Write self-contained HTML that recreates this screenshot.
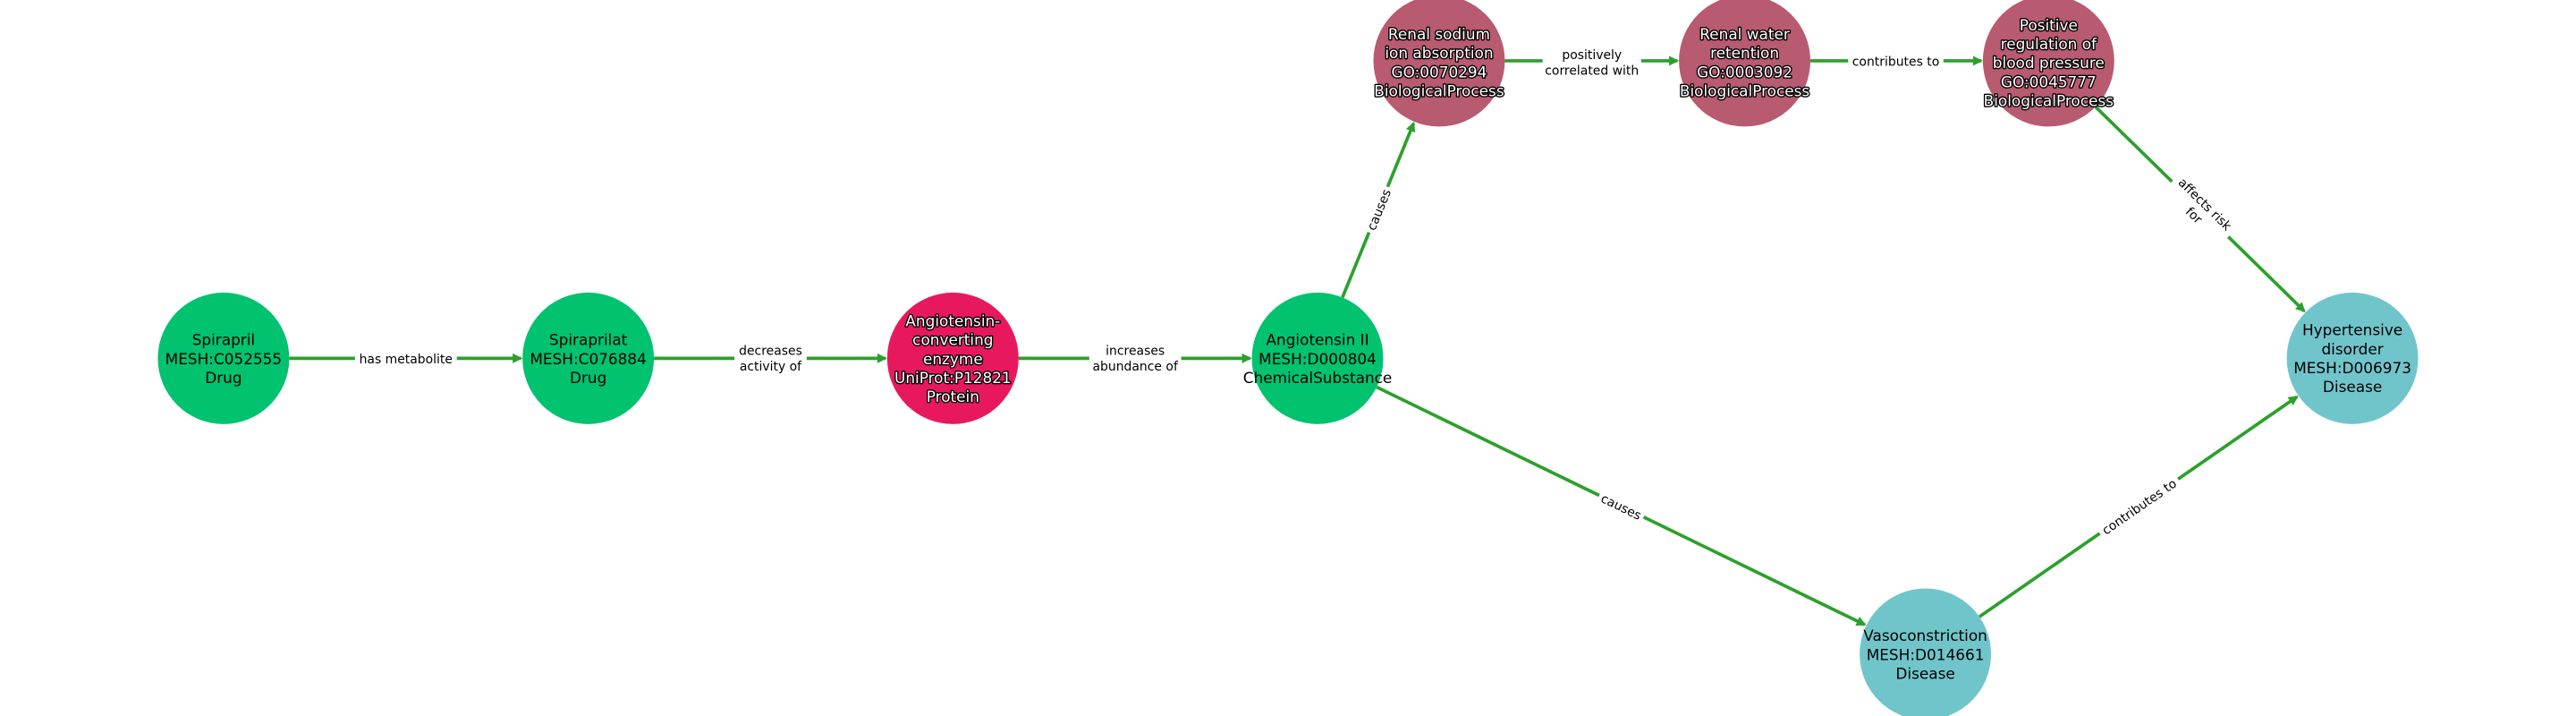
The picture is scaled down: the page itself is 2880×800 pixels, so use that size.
<!DOCTYPE html>
<html><head><meta charset="utf-8"><style>
html,body{margin:0;padding:0;background:#fff;}
svg{display:block;}
text{font-family:"DejaVu Sans","Liberation Sans",sans-serif;}
.n{font-size:9.2px;fill:#000;text-anchor:middle;}
.w{font-size:9.2px;fill:#fff;stroke:#000;stroke-width:1.5px;paint-order:stroke;stroke-linejoin:round;text-anchor:middle;}
.e{font-size:7.6px;fill:#000;text-anchor:middle;}
</style></head><body>
<svg id="s" width="2880" height="800" viewBox="0 0 1568 435.6" xmlns="http://www.w3.org/2000/svg">
<defs><marker id="a" markerWidth="6" markerHeight="6" refX="5" refY="3" orient="auto" markerUnits="userSpaceOnUse"><path d="M0,0 L6,3 L0,6 z" fill="#2ca02c"/></marker></defs>
<g id="edges"></g>
<g>
<circle cx="136" cy="218" r="40" fill="#00c26f"/>
<circle cx="358" cy="218" r="40" fill="#00c26f"/>
<circle cx="580" cy="218" r="40" fill="#e8185f"/>
<circle cx="802" cy="218" r="40" fill="#00c26f"/>
<circle cx="876" cy="37" r="40" fill="#b85a70"/>
<circle cx="1062" cy="37" r="40" fill="#b85a70"/>
<circle cx="1247" cy="37" r="40" fill="#b85a70"/>
<circle cx="1432" cy="218" r="40" fill="#70c5cb"/>
<circle cx="1172" cy="398" r="40" fill="#70c5cb"/>
</g>
<g id="labels">
<g><rect x="216" y="211" width="62" height="13" fill="#fff"/><text class="e" x="247" y="221">has metabolite</text></g>
<g><rect x="447" y="205" width="44" height="25" fill="#fff"/><text class="e" x="469" y="216">decreases</text><text class="e" x="469" y="225.5">activity of</text></g>
<g><rect x="663" y="205" width="56" height="25" fill="#fff"/><text class="e" x="691" y="216">increases</text><text class="e" x="691" y="225.5">abundance of</text></g>
<g><rect x="939" y="25" width="60" height="25" fill="#fff"/><text class="e" x="969" y="36">positively</text><text class="e" x="969" y="45.5">correlated with</text></g>
<g><rect x="1125" y="30" width="58" height="13" fill="#fff"/><text class="e" x="1154" y="40">contributes to</text></g>
<g transform="translate(839,127.5) rotate(-67.8)"><rect x="-15" y="-7" width="30" height="13" fill="#fff"/><text class="e" x="0" y="3">causes</text></g>
<g transform="translate(1339,127.5) rotate(44.4)"><rect x="-24" y="-12" width="48" height="25" fill="#fff"/><text class="e" x="0" y="-2">affects risk</text><text class="e" x="0" y="7.5">for</text></g>
<g transform="translate(987,308) rotate(25.9)"><rect x="-15" y="-7" width="30" height="13" fill="#fff"/><text class="e" x="0" y="3">causes</text></g>
<g transform="translate(1302,308) rotate(-34.7)"><rect x="-29" y="-7" width="58" height="13" fill="#fff"/><text class="e" x="0" y="3">contributes to</text></g>
</g>
<g>
<text class="n" x="136" y="210">Spirapril</text><text class="n" x="136" y="221.5">MESH:C052555</text><text class="n" x="136" y="233">Drug</text>
<text class="n" x="358" y="210">Spiraprilat</text><text class="n" x="358" y="221.5">MESH:C076884</text><text class="n" x="358" y="233">Drug</text>
<text class="w" x="580" y="198.5">Angiotensin-</text><text class="w" x="580" y="210">converting</text><text class="w" x="580" y="221.5">enzyme</text><text class="w" x="580" y="233">UniProt:P12821</text><text class="w" x="580" y="244.5">Protein</text>
<text class="n" x="802" y="210">Angiotensin II</text><text class="n" x="802" y="221.5">MESH:D000804</text><text class="n" x="802" y="233">ChemicalSubstance</text>
<text class="w" x="876" y="24">Renal sodium</text><text class="w" x="876" y="35.5">ion absorption</text><text class="w" x="876" y="47">GO:0070294</text><text class="w" x="876" y="58.5">BiologicalProcess</text>
<text class="w" x="1062" y="24">Renal water</text><text class="w" x="1062" y="35.5">retention</text><text class="w" x="1062" y="47">GO:0003092</text><text class="w" x="1062" y="58.5">BiologicalProcess</text>
<text class="w" x="1247" y="18.5">Positive</text><text class="w" x="1247" y="30">regulation of</text><text class="w" x="1247" y="41.5">blood pressure</text><text class="w" x="1247" y="53">GO:0045777</text><text class="w" x="1247" y="64.5">BiologicalProcess</text>
<text class="n" x="1432" y="204">Hypertensive</text><text class="n" x="1432" y="215.5">disorder</text><text class="n" x="1432" y="227">MESH:D006973</text><text class="n" x="1432" y="238.5">Disease</text>
<text class="n" x="1172" y="390">Vasoconstriction</text><text class="n" x="1172" y="401.5">MESH:D014661</text><text class="n" x="1172" y="413">Disease</text>
</g>
</svg>
<script>
var E=[[136,218,358,218],[358,218,580,218],[580,218,802,218],[802,218,876,37],[876,37,1062,37],[1062,37,1247,37],[1247,37,1432,218],[802,218,1172,398],[1172,398,1432,218]];
var g=document.getElementById('edges');
E.forEach(function(e){var dx=e[2]-e[0],dy=e[3]-e[1],L=Math.hypot(dx,dy),ux=dx/L,uy=dy/L;
var l=document.createElementNS('http://www.w3.org/2000/svg','line');
l.setAttribute('x1',e[0]+ux*40);l.setAttribute('y1',e[1]+uy*40);
l.setAttribute('x2',e[2]-ux*41);l.setAttribute('y2',e[3]-uy*41);
l.setAttribute('stroke','#2ca02c');l.setAttribute('stroke-width','2');l.setAttribute('marker-end','url(#a)');g.appendChild(l);});
</script>
</body></html>
